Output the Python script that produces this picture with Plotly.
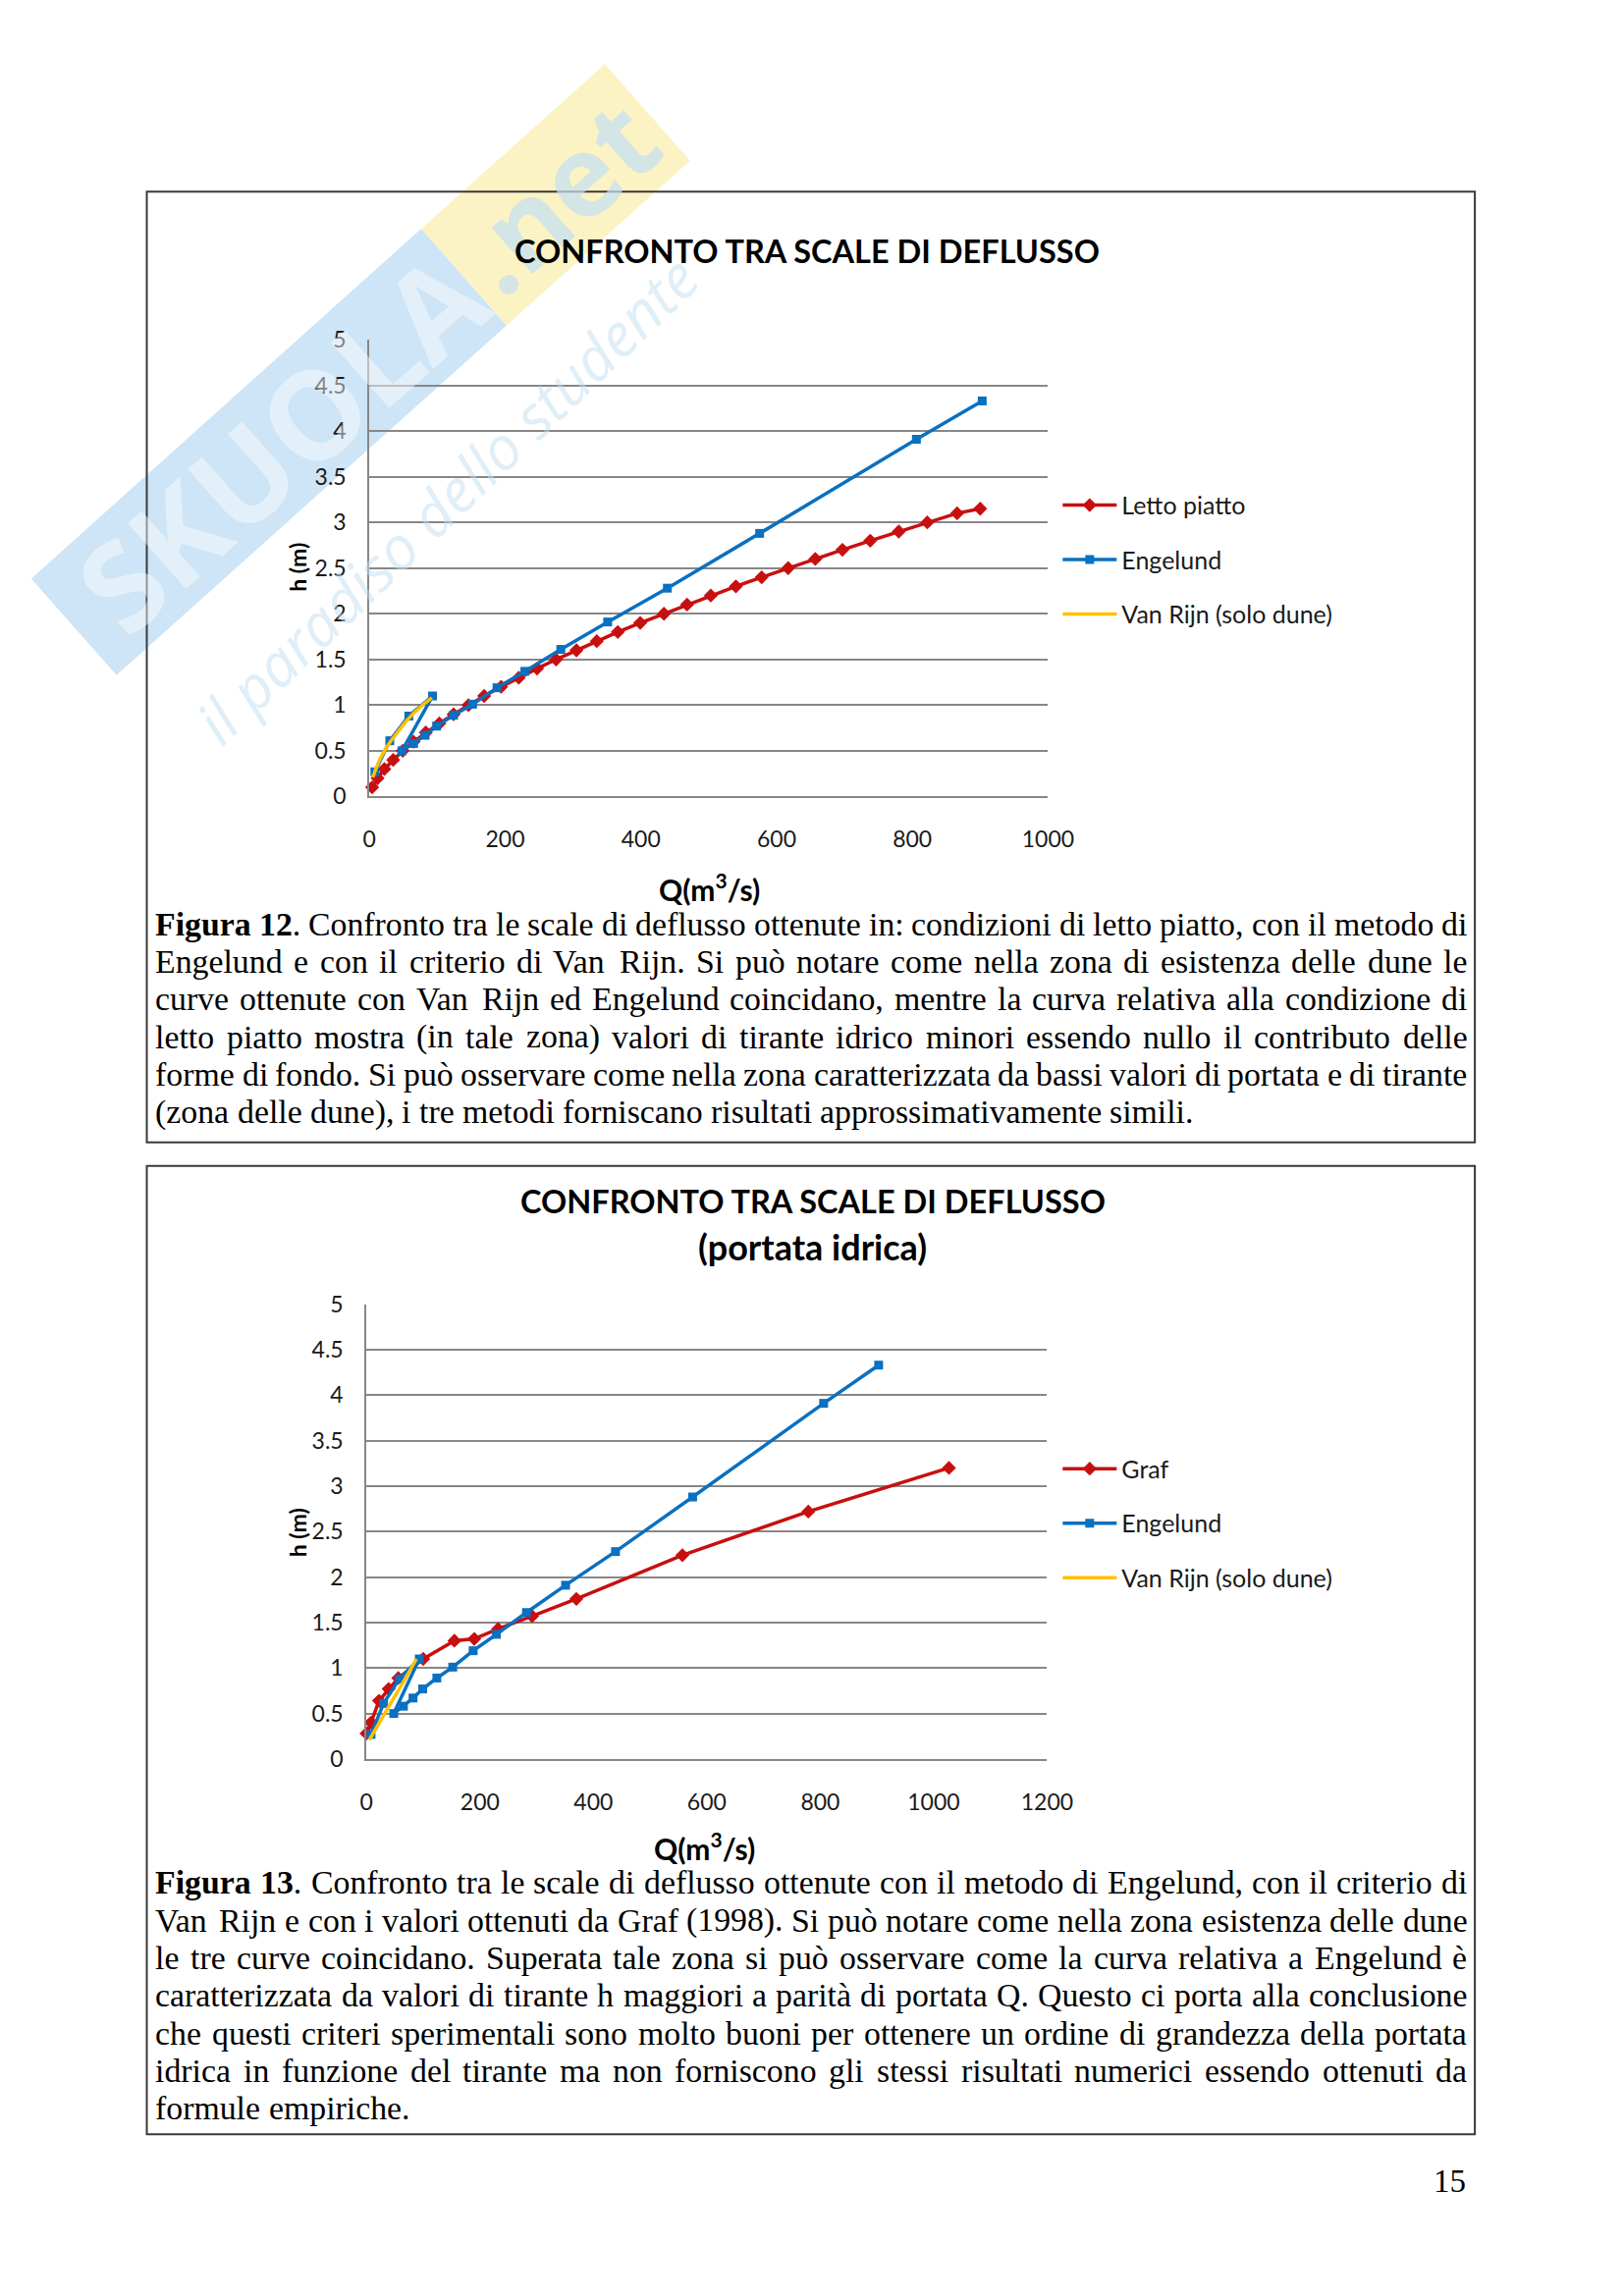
import math
import plotly.graph_objects as go

W, H = 1653, 2339

# ---------------- DATA ----------------
# Figura 12
letto_q = [4, 12, 22, 35, 49, 65, 83, 103, 124, 146, 169, 194, 220, 247, 275, 305,
           335, 366, 399, 434, 468, 503, 540, 578, 617, 657, 697, 738, 780, 822, 866, 900]
letto_h = [0.10, 0.20, 0.30, 0.40, 0.50, 0.60, 0.70, 0.80, 0.90, 1.00, 1.10, 1.20,
           1.30, 1.40, 1.50, 1.60, 1.70, 1.80, 1.90, 2.00, 2.10, 2.20, 2.30, 2.40,
           2.50, 2.60, 2.70, 2.80, 2.90, 3.00, 3.10, 3.15]

eng_q = [8, 30, 58, 93, 48, 65, 82, 99, 124, 152, 188, 229, 282, 351, 439, 575, 806, 903]
eng_h = [0.27, 0.61, 0.88, 1.10, 0.50, 0.58, 0.67, 0.77, 0.89, 1.01, 1.19, 1.37,
         1.61, 1.91, 2.28, 2.88, 3.91, 4.33]

vr1_q = [5, 15, 29, 42, 55, 72, 92]
vr1_h = [0.21, 0.40, 0.58, 0.71, 0.83, 0.96, 1.08]

# Figura 13
graf_q = [0, 8, 22, 39, 56, 100, 155, 190, 232, 292, 370, 557, 779, 1027]
graf_h = [0.28, 0.40, 0.64, 0.77, 0.89, 1.10, 1.30, 1.32, 1.43, 1.57, 1.76, 2.24, 2.72, 3.20]

vr2_q = [5, 26, 47, 68, 88]
vr2_h = [0.21, 0.44, 0.66, 0.88, 1.10]

x1_ticks = [0, 200, 400, 600, 800, 1000]
x2_ticks = [0, 200, 400, 600, 800, 1000, 1200]
y_ticks = [0, 0.5, 1, 1.5, 2, 2.5, 3, 3.5, 4, 4.5, 5]

cap12 = [
    "Figura 12. Confronto tra le scale di deflusso ottenute in: condizioni di letto piatto, con il metodo di",
    "Engelund e con il criterio di Van Rijn. Si può notare come nella zona di esistenza delle dune le",
    "curve ottenute con Van Rijn ed Engelund coincidano, mentre la curva relativa alla condizione di",
    "letto piatto mostra (in tale zona) valori di tirante idrico minori essendo nullo il contributo delle",
    "forme di fondo. Si può osservare come nella zona caratterizzata da bassi valori di portata e di tirante",
    "(zona delle dune), i tre metodi forniscano risultati approssimativamente simili.",
]
cap13 = [
    "Figura 13. Confronto tra le scale di deflusso ottenute con il metodo di Engelund, con il criterio di",
    "Van Rijn e con i valori ottenuti da Graf (1998). Si può notare come nella zona esistenza delle dune",
    "le tre curve coincidano. Superata tale zona si può osservare come la curva relativa a Engelund è",
    "caratterizzata da valori di tirante h maggiori a parità di portata Q. Questo ci porta alla conclusione",
    "che questi criteri sperimentali sono molto buoni per ottenere un ordine di grandezza della portata",
    "idrica in funzione del tirante ma non forniscono gli stessi risultati numerici essendo ottenuti da",
    "formule empiriche.",
]

# ---------------- STYLE ----------------
RED = "#c80f0f"
BLUE = "#0a70c0"
YEL = "#ffc000"
GRID = "#878787"
SANS = "Lato"
SERIF = "Liberation Serif"
TXT = "#1a1a1a"

# page-layout calibration (layout pixel -> page pixel)
CX, KX = 559.0, 1.011
CY, KY = 1470.0, 1.0106


def px(x):
    return (CX + (x - CX) * KX) / W


def py(y):
    return 1 - (CY + (y - CY) * KY) / H


fig = go.Figure()

mk_d = dict(symbol="diamond", size=11, color=RED)
mk_s = dict(symbol="square", size=9, color=BLUE)
fig.add_trace(go.Scatter(x=letto_q, y=letto_h, name="Letto piatto", mode="lines+markers",
                         line=dict(color=RED, width=3.5), marker=mk_d,
                         xaxis="x", yaxis="y", legend="legend", legendgroup="a", cliponaxis=False))
fig.add_trace(go.Scatter(x=eng_q, y=eng_h, name="Engelund", mode="lines+markers",
                         line=dict(color=BLUE, width=3.5), marker=mk_s,
                         xaxis="x", yaxis="y", legend="legend", legendgroup="b", cliponaxis=False))
fig.add_trace(go.Scatter(x=vr1_q, y=vr1_h, name="Van Rijn (solo dune)", mode="lines",
                         line=dict(color=YEL, width=3.5, shape="spline"),
                         xaxis="x", yaxis="y", legend="legend", legendgroup="c", cliponaxis=False))

fig.add_trace(go.Scatter(x=graf_q, y=graf_h, name="Graf", mode="lines+markers",
                         line=dict(color=RED, width=3.5), marker=mk_d,
                         xaxis="x2", yaxis="y2", legend="legend2", legendgroup="d", cliponaxis=False))
fig.add_trace(go.Scatter(x=eng_q, y=eng_h, name="Engelund", mode="lines+markers",
                         line=dict(color=BLUE, width=3.5), marker=mk_s,
                         xaxis="x2", yaxis="y2", legend="legend2", legendgroup="e", cliponaxis=False))
fig.add_trace(go.Scatter(x=vr2_q, y=vr2_h, name="Van Rijn (solo dune)", mode="lines",
                         line=dict(color=YEL, width=3.5),
                         xaxis="x2", yaxis="y2", legend="legend2", legendgroup="f", cliponaxis=False))

tickfont = dict(family=SANS, size=23, color=TXT)
common_y = dict(range=[0, 5], tickvals=y_ticks, showgrid=True, gridcolor=GRID, gridwidth=2,
                showline=True, linecolor=GRID, linewidth=2, zeroline=False,
                ticks="outside", ticklen=17, tickcolor="rgba(0,0,0,0)", tickfont=tickfont, fixedrange=True)
common_x = dict(showgrid=False, showline=True, linecolor=GRID, linewidth=2, zeroline=False,
                ticks="outside", ticklen=22, tickcolor="rgba(0,0,0,0)", tickfont=tickfont, fixedrange=True)
legfont = dict(family=SANS, size=25, color=TXT)

fig.update_layout(
    width=W, height=H, margin=dict(l=0, r=0, t=0, b=0),
    paper_bgcolor="white", plot_bgcolor="rgba(0,0,0,0)",
    xaxis=dict(domain=[px(379), px(1077)], range=[0, 1000], tickvals=x1_ticks, anchor="y", **common_x),
    yaxis=dict(domain=[py(813), py(347)], anchor="x", **common_y),
    xaxis2=dict(domain=[px(376), px(1076)], range=[0, 1200], tickvals=x2_ticks, anchor="y2", **common_x),
    yaxis2=dict(domain=[py(1795), py(1331)], anchor="x2", **common_y),
    legend=dict(x=px(1087), y=py(493), xanchor="left", yanchor="top", itemwidth=55,
                tracegroupgap=20, font=legfont, bgcolor="rgba(0,0,0,0)"),
    legend2=dict(x=px(1087), y=py(1476), xanchor="left", yanchor="top", itemwidth=55,
                 tracegroupgap=20, font=legfont, bgcolor="rgba(0,0,0,0)"),
    showlegend=True,
)

shapes = []
annots = []


def note(x, y, text, font, **kw):
    d = dict(x=px(x), y=py(y), xref="paper", yref="paper", showarrow=False,
             xanchor="center", yanchor="middle", text=text, font=font)
    d.update(kw)
    annots.append(d)


# ---------- watermark ----------
S = (75, 640)
E = (665, 115)
dx, dy = E[0] - S[0], E[1] - S[1]
L = math.hypot(dx, dy)
ux, uy = dx / L, dy / L
nx, ny = -uy, ux
hw = 66


def band(t0, t1):
    p = []
    for t, s in [(t0, -1), (t1, -1), (t1, 1), (t0, 1)]:
        cx, cy = S[0] + ux * L * t, S[1] + uy * L * t
        p.append((cx + s * hw * nx, cy + s * hw * ny))
    return "M " + " L ".join(f"{px(a):.5f},{py(b):.5f}" for a, b in p) + " Z"


shapes.append(dict(type="path", xref="paper", yref="paper", path=band(0, 0.68),
                   fillcolor="#cde5f6", line=dict(width=0), layer="below"))
shapes.append(dict(type="path", xref="paper", yref="paper", path=band(0.68, 1.0),
                   fillcolor="#fcf3c4", line=dict(width=0), layer="below"))
ang = -math.degrees(math.atan2(-dy, dx))
cxb, cyb = S[0] + ux * L * 0.36, S[1] + uy * L * 0.36
note(cxb, cyb, "<b>SKUOLA</b>", dict(family="Open Sans", size=125, color="#ffffff"),
     textangle=ang, opacity=0.45)
cxn, cyn = S[0] + ux * L * 0.84, S[1] + uy * L * 0.84
note(cxn, cyn, "<b>.net</b>", dict(family="Open Sans", size=115, color="#c4e0f3"),
     textangle=ang, opacity=0.7)
note(458, 510, "<i>il paradiso dello studente</i>", dict(family="Open Sans", size=61, color="#c2def2"),
     textangle=-44, opacity=0.5)

# ---------- boxes ----------
for (x0, y0, x1, y1) in [(150, 196, 1516, 1166), (150, 1190, 1516, 2178)]:
    shapes.append(dict(type="rect", xref="paper", yref="paper", x0=px(x0), x1=px(x1),
                       y0=py(y0), y1=py(y1), line=dict(color="#3a3a3a", width=2)))

# ---------- titles / axis titles ----------
note(829, 256, "<b>CONFRONTO TRA SCALE DI DEFLUSSO</b>", dict(family=SANS, size=32.5, color="#000"))
note(835, 1226, "<b>CONFRONTO TRA SCALE DI DEFLUSSO</b>", dict(family=SANS, size=32.5, color="#000"))
note(835, 1272, "<b>(portata idrica)</b>", dict(family=SANS, size=36, color="#000"))
note(729, 906, "<b>Q(m<sup>3</sup>/s)</b>", dict(family=SANS, size=30, color="#000"))
note(724, 1884, "<b>Q(m<sup>3</sup>/s)</b>", dict(family=SANS, size=30, color="#000"))
note(305, 579, "<b>h (m)</b>", dict(family=SANS, size=23, color="#000"), textangle=-90)
note(305, 1564, "<b>h (m)</b>", dict(family=SANS, size=23, color="#000"), textangle=-90)
note(1490, 2226, "15", dict(family=SERIF, size=33, color="#000"))

# ---------- justified captions (Times metrics) ----------
REG = {' ': 250, '!': 333, '(': 333, ')': 333, ',': 250, '-': 333, '.': 250, ':': 278, ';': 278,
       '0': 500, '1': 500, '2': 500, '3': 500, '4': 500, '5': 500, '6': 500, '7': 500, '8': 500, '9': 500,
       'A': 722, 'B': 667, 'C': 667, 'D': 722, 'E': 611, 'F': 556, 'G': 722, 'H': 722, 'I': 333,
       'J': 389, 'K': 722, 'L': 611, 'M': 889, 'N': 722, 'O': 722, 'P': 556, 'Q': 722, 'R': 667,
       'S': 556, 'T': 611, 'U': 722, 'V': 722, 'W': 944, 'X': 722, 'Y': 722, 'Z': 611,
       'a': 444, 'b': 500, 'c': 444, 'd': 500, 'e': 444, 'f': 333, 'g': 500, 'h': 500, 'i': 278,
       'j': 278, 'k': 500, 'l': 278, 'm': 778, 'n': 500, 'o': 500, 'p': 500, 'q': 500, 'r': 333,
       's': 389, 't': 278, 'u': 500, 'v': 500, 'w': 722, 'x': 500, 'y': 500, 'z': 444,
       'ò': 500, 'à': 444, 'è': 444, 'ù': 500, 'ì': 278}
BOLD = {'F': 611, 'i': 278, 'g': 500, 'u': 556, 'r': 444, 'a': 500,
        '0': 500, '1': 500, '2': 500, '3': 500, '4': 500, '5': 500, '6': 500, '7': 500, '8': 500, '9': 500}
FS = 33.8
WF = 1.02      # safety factor on measured widths
LEFT, RIGHT = 159, 1508


def wwidth(word, bold_part=""):
    w = sum(BOLD.get(c, 500) for c in bold_part)
    w += sum(REG.get(c, 500) for c in word[len(bold_part):])
    return w * FS / 1000.0 * WF / KX


def add_caption(lines, y_first, step):
    for li, line in enumerate(lines):
        words = line.split(" ")
        items = []
        for wi, w in enumerate(words):
            if li == 0 and wi == 0 and w == "Figura":
                items.append(("<b>Figura</b>", wwidth(w, "Figura")))
            elif li == 0 and wi == 1:
                num = w.rstrip(".")
                items.append((f"<b>{num}</b>.", wwidth(w, num)))
            else:
                items.append((w, wwidth(w)))
        total = sum(i[1] for i in items)
        gaps = len(items) - 1
        last = li == len(lines) - 1
        if last or gaps == 0:
            sp = 0.25 * FS / KX
        else:
            sp = max((RIGHT - LEFT - total) / gaps, 0.12 * FS)
        x = LEFT
        yc = y_first + li * step
        for txt, wdt in items:
            annots.append(dict(x=px(x), y=py(yc), xref="paper", yref="paper", showarrow=False,
                               xanchor="left", yanchor="middle", text=txt, borderpad=0, borderwidth=0,
                               font=dict(family=SERIF, size=FS, color="#000")))
            x += wdt + sp


add_caption(cap12, 943, 38.4)
add_caption(cap13, 1921, 38.4)

fig.update_layout(shapes=shapes, annotations=annots)
fig.write_html("out.html", config={"displayModeBar": False},
               post_script="document.body.style.margin='0';document.body.style.overflow='hidden';")
